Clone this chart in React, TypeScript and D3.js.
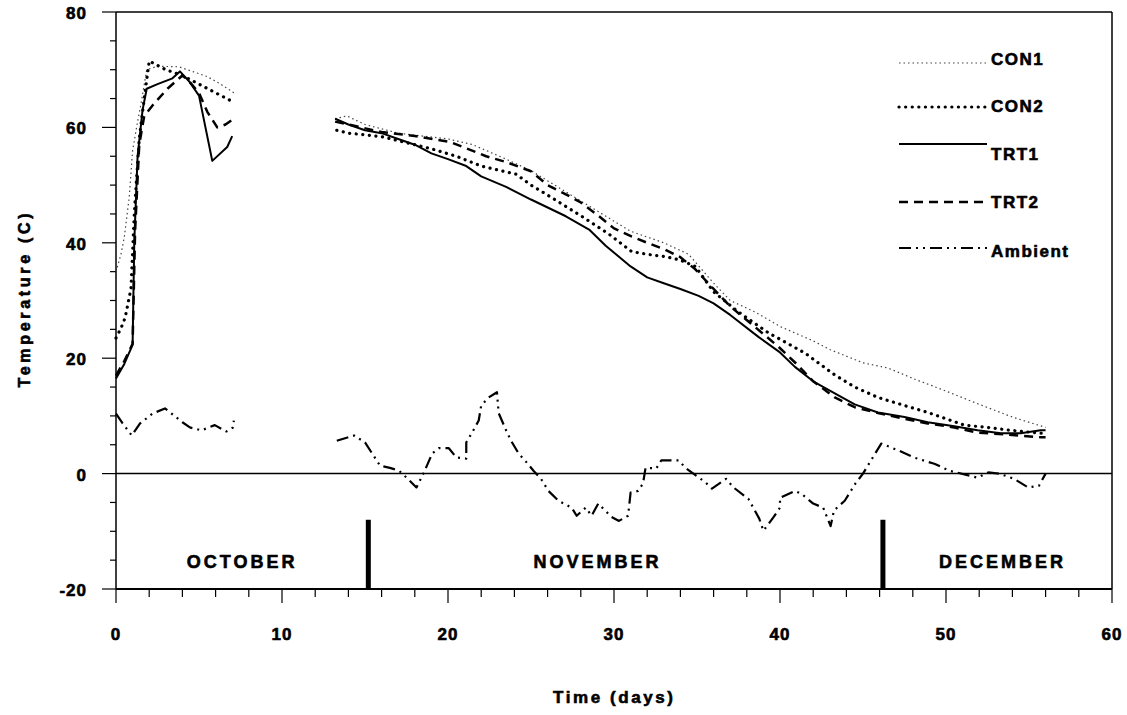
import React from 'react';
import * as d3 from 'd3';

type Pt = [number, number];

// October segment (days 0-7) and November/December segment (days 13-56)
const con1Oct: Pt[] = [[0, 35], [0.3, 38], [0.5, 41], [0.8, 48], [1.0, 56], [1.3, 61], [1.5, 64], [1.85, 70], [2.5, 70.6], [3.8, 70.5], [4.5, 69.8], [5.5, 68.8], [6.3, 67.5], [7.1, 66]];
const con1Nov: Pt[] = [[13.2, 61.5], [13.9, 62], [15, 60.5], [17, 59], [20, 58], [21.5, 57], [23.5, 54.5], [25, 52.5], [27, 49], [29, 45.5], [31, 42], [33, 40], [34.5, 38], [36, 33], [37, 30], [38.5, 28], [40, 25.5], [42, 23], [43, 21.5], [45, 19.2], [46.5, 18.3], [48, 16.5], [50, 14.3], [52, 12], [54, 9.8], [56, 8]];

const con2Oct: Pt[] = [[0, 23.5], [0.3, 25.2], [0.55, 27], [0.9, 32], [1.1, 45], [1.4, 58], [1.7, 65], [2.0, 71.5], [3, 70], [4, 69], [5, 67.5], [6, 66], [7, 64.5]];
const con2Nov: Pt[] = [[13.3, 59.5], [14, 59], [16, 58.4], [19, 56.3], [20.5, 55], [22, 53.3], [24.1, 51.9], [25, 50], [26.1, 48.1], [28.05, 44.6], [29.7, 41.5], [31.05, 38.5], [32, 38], [33.1, 37.6], [34, 37], [34.9, 35.9], [36, 31.5], [37.5, 28], [39.3, 24.4], [41.5, 20.9], [43.3, 17.1], [44.5, 15], [45.9, 13.2], [47.5, 11.8], [48.9, 10.6], [50, 9.5], [51.1, 8.4], [52.5, 8], [53.9, 7.5], [55.7, 7.0], [56, 7]];

const trt1Oct: Pt[] = [[0, 16.5], [0.5, 19], [1.0, 22.3], [1.1, 40], [1.3, 55], [1.6, 63], [1.85, 66.7], [2.5, 67.5], [3.4, 68.5], [3.85, 69.7], [4.4, 68], [5.0, 65.5], [5.8, 54.2], [6.7, 56.6], [7.0, 58.5]];
const trt1Nov: Pt[] = [[13.2, 61.5], [14, 60.5], [15, 59.5], [16, 59], [17, 58], [18, 57], [19, 55.5], [20, 54.5], [21.1, 53.3], [22, 51.5], [23.5, 49.7], [25, 47.5], [27.1, 44.6], [28.5, 42.3], [29.5, 39.5], [31, 35.9], [32, 34], [33, 33], [34, 32], [35.1, 30.8], [36, 29.5], [37, 27.5], [38.7, 23.7], [40, 21], [40.9, 18.5], [42, 16], [43.3, 13.9], [44.5, 12], [45.9, 10.6], [47.5, 9.8], [48.9, 8.9], [50.5, 8.2], [51.9, 7.5], [53.3, 7.0], [54.5, 7.0], [55.7, 7.5], [56, 7.5]];

const trt2Oct: Pt[] = [[0, 17], [0.5, 19.5], [1.0, 22.5], [1.15, 42], [1.4, 57], [1.7, 62], [2.2, 63.8], [3.1, 66.7], [4.0, 69], [4.4, 68], [5.0, 66], [5.5, 62.7], [6.1, 60], [6.6, 60.5], [7.0, 61.3]];
const trt2Nov: Pt[] = [[13.2, 61], [14, 60.5], [16, 59.2], [18, 58.5], [20.1, 57.5], [21, 56.5], [22.3, 55], [23.5, 54], [25, 52.4], [26, 50], [27.1, 48.4], [28, 47], [29.1, 44.6], [30, 42.5], [31.05, 41.1], [32, 40], [33.1, 38.8], [34, 37.5], [34.9, 35.4], [36, 32], [37, 29], [38.5, 25.4], [39.9, 22], [41, 19], [42, 16], [43.3, 13.2], [44.5, 11.5], [45.9, 10.5], [47.5, 9.5], [48.9, 8.7], [50.5, 8], [51.9, 7.1], [53.5, 6.8], [55.7, 6.3], [56, 6.3]];

const ambOct: Pt[] = [[0, 10.4], [0.4, 8.7], [0.95, 6.6], [1.45, 8.7], [2.2, 10.4], [2.95, 11.3], [3.35, 10.4], [4, 8.9], [4.45, 8], [5.15, 7.5], [5.95, 8.4], [6.65, 7.3], [7.05, 8], [7.1, 9.2]];
const ambNov: Pt[] = [[13.3, 5.7], [14.35, 6.6], [15, 5.4], [15.9, 1.4], [16.5, 1.0], [17.05, 0.5], [17.5, -0.7], [18.1, -2.4], [18.55, 0.2], [19.05, 3.5], [19.45, 4.4], [20.05, 4.4], [20.5, 2.8], [21.1, 2.6], [21.1, 5.4], [21.45, 7.1], [21.85, 9.2], [22, 11.8], [22.45, 13.2], [22.95, 14.1], [23.05, 10.5], [23.5, 7.5], [23.8, 5.7], [24.25, 3.5], [24.75, 1.9], [25.15, 0.5], [25.6, -0.9], [26.05, -3.0], [26.65, -4.7], [27.45, -5.9], [27.75, -7.3], [28.3, -5.9], [28.65, -7.3], [29.05, -5.2], [29.85, -7.5], [30.3, -8.2], [30.85, -7.3], [31, -3.3], [31.45, -3.0], [31.75, -1.7], [31.9, 1.0], [32.55, 0.9], [32.85, 2.3], [33.9, 2.3], [34.3, 1.0], [35.5, -1.5], [35.9, -2.6], [36.75, -0.9], [37.2, -2.4], [38.1, -4.4], [38.75, -7.8], [39.0, -9.9], [39.6, -7.6], [40.0, -5.9], [40.0, -4.2], [40.9, -3.0], [41.3, -3.5], [42, -5.2], [42.6, -5.9], [43.05, -9.1], [43.25, -6.4], [43.9, -4.7], [44.55, -1.7], [45, 0], [45.4, 1.9], [46.1, 5.2], [47.15, 4.0], [48.05, 2.8], [49.3, 1.7], [50.2, 0.5], [51.9, -0.7], [52.55, 0.2], [53.2, 0], [54.1, -0.9], [54.95, -2.4], [55.6, -2.1], [56.0, 0]];

const seriesNames = ['CON1', 'CON2', 'TRT1', 'TRT2', 'Ambient'];
const xTickLabels = [0, 10, 20, 30, 40, 50, 60];
const yTickLabels = [-20, 0, 20, 40, 60, 80];
const monthNames = ['OCTOBER', 'NOVEMBER', 'DECEMBER'];
const monthCenters = [7.6, 29.0, 53.4];
const monthBreaks = [15.2, 46.2];

const FONT = '"Liberation Sans", Arial, sans-serif';

const styles = [
  { stroke: '#444', width: 1.2, dash: '1.5,3', cap: 'butt' },
  { stroke: '#000', width: 3.2, dash: '0.1,6.5', cap: 'round' },
  { stroke: '#000', width: 2, dash: null, cap: 'butt' },
  { stroke: '#000', width: 2.5, dash: '9,6', cap: 'butt' },
  { stroke: '#000', width: 2.2, dash: '12,5,2,5,2,5', cap: 'butt' },
];

export default function App() {
  const left = 116, right = 1112, top = 12, bottom = 589;
  const x = d3.scaleLinear().domain([0, 60]).range([left, right]);
  const y = d3.scaleLinear().domain([-20, 80]).range([bottom, top]);
  const line = d3.line<Pt>().x(d => x(d[0])).y(d => y(d[1]));

  const data = [
    [con1Oct, con1Nov],
    [con2Oct, con2Nov],
    [trt1Oct, trt1Nov],
    [trt2Oct, trt2Nov],
    [ambOct, ambNov],
  ];

  const xMinor = d3.range(0, 61, 2);
  const yMinor = d3.range(-20, 81, 5);
  const legendY = [63, 107, 144, 202, 248];
  const legendTextY = [65, 112, 160, 208, 257];

  return (
    <div style={{ position: 'fixed', left: 0, top: 0 }}>
      <svg width={1127} height={715} style={{ display: 'block', background: '#fff' }} fontFamily={FONT} fontWeight="bold">
        {/* frame */}
        <line x1={left} x2={right} y1={top} y2={top} stroke="#000" strokeWidth={1.5} />
        <line x1={right} x2={right} y1={top} y2={bottom} stroke="#000" strokeWidth={1.5} />
        <line x1={left} x2={left} y1={top} y2={bottom} stroke="#000" strokeWidth={1.5} />
        <line x1={left} x2={right} y1={bottom} y2={bottom} stroke="#000" strokeWidth={2} />
        <line x1={left} x2={right} y1={y(0)} y2={y(0)} stroke="#000" strokeWidth={1.5} />

        {/* y ticks */}
        {yMinor.map(v => (
          <line key={'yt' + v} x1={left - (v % 20 === 0 ? 14 : 6)} x2={left} y1={y(v)} y2={y(v)} stroke="#000" strokeWidth={1.2} />
        ))}

        {/* x ticks */}
        {xMinor.map(v => (
          <line key={'xt' + v} x1={x(v)} x2={x(v)} y1={bottom} y2={bottom + (v % 10 === 0 ? 14 : 8)} stroke="#000" strokeWidth={1.2} />
        ))}

        {/* text, slightly stroked to look heavy like the scan */}
        <g stroke="#000" strokeWidth={0.6}>
          {yTickLabels.map(v => (
            <text key={'yl' + v} x={left - 29} y={y(v) + 7} textAnchor="end" fontSize={17} letterSpacing={1}>{v}</text>
          ))}
          {xTickLabels.map(v => (
            <text key={'xl' + v} x={x(v)} y={640} textAnchor="middle" fontSize={17} letterSpacing={1}>{v}</text>
          ))}
          {monthNames.map((m, i) => (
            <text key={m} x={x(monthCenters[i])} y={568} textAnchor="middle" fontSize={18} letterSpacing={3}>{m}</text>
          ))}
          {seriesNames.map((n, i) => (
            <text key={'lt' + n} x={991} y={legendTextY[i]} fontSize={17} letterSpacing={1.5}>{n}</text>
          ))}
          <text transform={`translate(30, ${(top + bottom) / 2}) rotate(-90)`} textAnchor="middle" fontSize={16} textLength={174} lengthAdjust="spacing">Temperature (C)</text>
          <text x={613} y={703} textAnchor="middle" fontSize={17} textLength={120} lengthAdjust="spacing">Time (days)</text>
        </g>

        {/* month dividers */}
        {monthBreaks.map(d => (
          <line key={'mb' + d} x1={x(d)} x2={x(d)} y1={y(-8)} y2={bottom} stroke="#000" strokeWidth={5} />
        ))}

        {/* series */}
        {data.map((segs, i) =>
          segs.map((seg, j) => (
            <path key={'s' + i + '-' + j} d={line(seg) || ''} fill="none" stroke={styles[i].stroke}
              strokeWidth={styles[i].width} strokeDasharray={styles[i].dash || undefined}
              strokeLinecap={styles[i].cap as any} strokeLinejoin="round" />
          ))
        )}

        {/* legend samples */}
        {seriesNames.map((n, i) => (
          <line key={'lg' + n} x1={899} x2={987} y1={legendY[i]} y2={legendY[i]} stroke={styles[i].stroke}
            strokeWidth={styles[i].width} strokeDasharray={styles[i].dash || undefined}
            strokeLinecap={styles[i].cap as any} />
        ))}
      </svg>
    </div>
  );
}
